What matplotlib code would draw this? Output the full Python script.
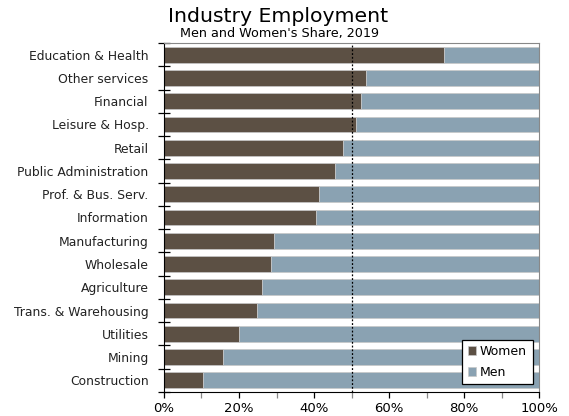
import matplotlib.pyplot as plt
import numpy as np
from matplotlib.ticker import MultipleLocator, FuncFormatter

industries = ["Education & Health", "Other services", "Financial", "Leisure & Hosp.",
              "Retail", "Public Administration", "Prof. & Bus. Serv.", "Information",
              "Manufacturing", "Wholesale", "Agriculture", "Trans. & Warehousing",
              "Utilities", "Mining", "Construction"]
women = [74.7, 53.9, 52.5, 51.2, 47.6, 45.7, 41.3, 40.5, 29.4, 28.6, 26.2, 24.7, 20.0, 15.8, 10.4]
men = [100 - w for w in women]


def main():
    fig = plt.figure(figsize=(5.69, 4.16), dpi=100)
    ax = fig.add_axes([164 / 569, 1 - 392 / 416, 375 / 569, 349 / 416])

    y = np.arange(len(industries))[::-1]
    ax.barh(y, women, height=0.68, color="#5c5044", edgecolor="#c8c8c8", linewidth=0.5, label="Women")
    ax.barh(y, men, left=women, height=0.68, color="#8aa2b2", edgecolor="#c8c8c8", linewidth=0.5, label="Men")
    ax.axvline(50, color="black", linestyle=(0, (1.5, 1.5)), linewidth=0.9)

    ax.set_xlim(0, 100)
    ax.set_ylim(-0.5, len(industries) - 0.5)
    ax.set_yticks(y)
    ax.set_yticklabels(industries, fontsize=8.9, color="#222222")
    ax.yaxis.set_minor_locator(MultipleLocator(1, offset=0.5))
    ax.tick_params(axis="y", which="major", length=0, pad=11)
    ax.tick_params(axis="y", which="minor", direction="inout", length=8, width=0.9)
    ax.xaxis.set_major_locator(MultipleLocator(20))
    ax.xaxis.set_minor_locator(MultipleLocator(10))
    ax.xaxis.set_major_formatter(FuncFormatter(lambda v, p: f"{v:.0f}%"))
    ax.tick_params(axis="x", which="both", direction="out", length=4, width=0.9, labelsize=9.5)
    ax.tick_params(axis="x", which="minor", colors="#888888")

    for s in ["top", "right"]:
        ax.spines[s].set_color("#888888")
    for s in ["left", "bottom"]:
        ax.spines[s].set_color("black")

    leg = ax.legend(loc="lower right", bbox_to_anchor=(0.983, 0.022), fontsize=9, frameon=True,
                    fancybox=False, handlelength=0.7, handleheight=0.7, handletextpad=0.3,
                    borderpad=0.45, labelspacing=0.6, borderaxespad=0)
    leg.get_frame().set_edgecolor("black")
    leg.get_frame().set_linewidth(0.9)
    leg.get_frame().set_alpha(1)

    fig.text(278 / 569, 1 - 17 / 416, "Industry Employment", fontsize=14.7, ha="center", va="center")
    fig.text(280 / 569, 1 - 33 / 416, "Men and Women's Share, 2019", fontsize=9.2, ha="center", va="center")

    plt.savefig("out.png", dpi=100)


if __name__ == "__main__":
    main()
